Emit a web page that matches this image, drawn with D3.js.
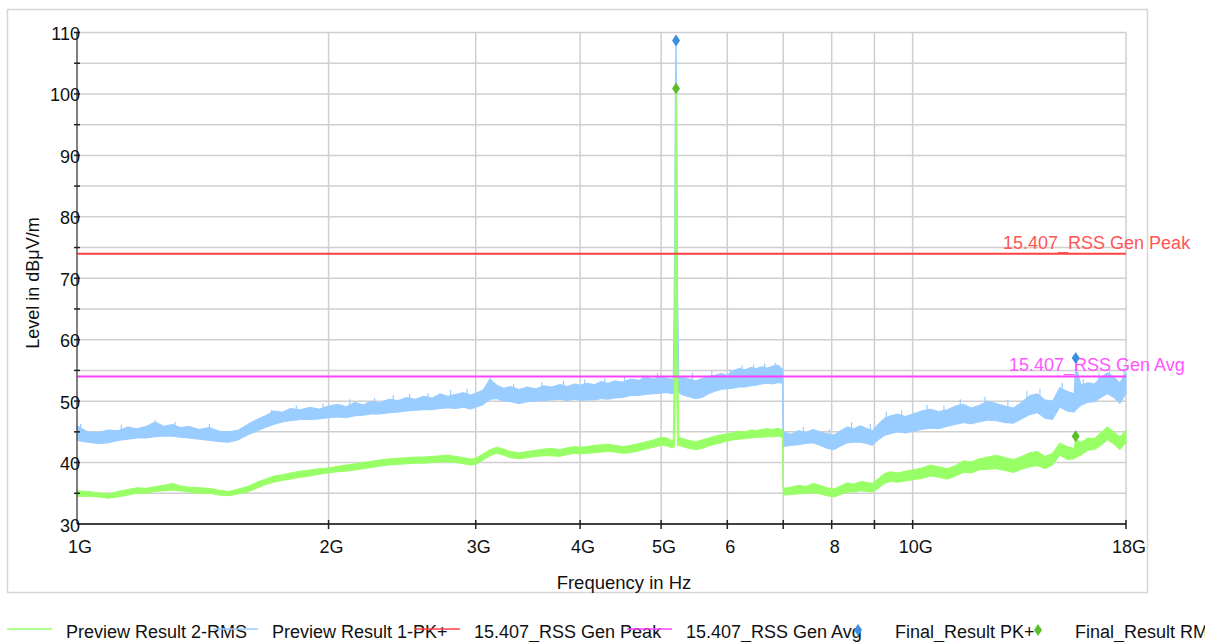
<!DOCTYPE html>
<html><head><meta charset="utf-8">
<script src="https://cdn.jsdelivr.net/npm/d3@7"></script>
<style>
html,body{margin:0;padding:0;background:#fff;}
svg{display:block;font-family:"Liberation Sans",Arial,sans-serif;}
</style></head><body>
<svg id="chart" width="1205" height="642"></svg>
<script>
// ---------- data (GHz / dBµV/m) ----------
const freqGHz = [
 1.00,1.03,1.06,1.09,1.12,1.15,1.18,1.21,1.24,1.27,1.30,1.33,1.36,1.40,1.44,1.48,1.52,1.56,1.60,1.64,1.68,1.72,1.76,1.80,1.85,1.90,1.95,2.00,
 2.05,2.10,2.15,2.20,2.25,2.30,2.36,2.42,2.48,2.54,2.60,2.66,2.72,2.78,2.84,2.90,2.96,3.00,
 3.06,3.12,3.18,3.24,3.30,3.38,3.46,3.54,3.62,3.70,3.78,3.86,3.94,4.00,4.08,4.16,4.24,4.32,4.40,4.50,4.60,4.70,4.80,4.90,5.00,5.08,5.15,
 5.17,5.19,5.20,5.21,5.22,5.23,5.25,
 5.30,5.40,5.50,5.60,5.70,5.80,5.90,6.00,6.10,6.20,6.30,6.40,6.50,6.60,6.70,6.80,6.90,6.99,7.00,
 7.15,7.30,7.45,7.60,7.75,7.90,8.05,8.20,8.35,8.50,8.65,8.80,8.95,9.10,9.25,9.40,9.60,9.80,10.0,
 10.25,10.5,10.75,11.0,11.25,11.5,11.75,12.0,12.3,12.6,12.9,13.2,13.5,13.8,14.1,14.4,14.7,15.0,15.3,15.6,15.67,15.9,16.2,16.5,16.8,17.1,17.4,17.7,18.0
];
const pkHi = [
 46.0,45.0,44.9,45.3,45.2,45.8,45.5,45.9,46.6,45.9,46.2,45.7,45.9,45.4,45.7,45.1,45.0,45.3,46.2,47.0,47.6,48.4,48.2,48.8,48.6,49.0,48.7,49.2,
 49.5,49.1,49.8,49.4,50.0,49.7,50.3,50.1,50.6,50.3,50.8,50.5,51.2,50.8,51.1,51.4,51.0,51.3,
 51.8,53.6,52.6,52.1,52.4,51.9,52.3,52.0,52.5,52.3,52.7,52.4,52.8,52.6,52.9,52.7,53.2,52.9,53.3,53.1,53.6,53.4,53.9,53.6,54.0,53.7,53.6,
 53.5,75.0,100.0,108.7,100.0,70.0,53.8,
 53.9,53.6,53.3,53.7,54.0,54.2,54.5,54.2,55.0,55.3,55.1,55.5,55.3,55.6,55.4,55.7,55.9,55.2,45.0,
 44.6,45.2,44.9,45.4,45.0,44.7,44.5,45.2,45.8,45.5,46.0,45.6,45.2,46.3,47.2,47.6,47.9,47.5,47.9,
 48.4,48.7,48.3,48.6,49.2,49.5,48.9,49.3,50.0,49.6,49.2,48.9,49.8,50.9,51.2,50.2,50.0,52.2,51.6,51.2,56.0,52.6,53.0,52.8,53.9,54.6,54.0,53.0,54.6
];
const pkLo = [
 43.6,43.3,43.1,43.2,43.6,43.8,44.0,44.0,44.2,44.3,44.3,44.1,44.0,43.8,43.6,43.4,43.3,43.7,44.5,45.1,45.7,46.2,46.6,46.8,47.0,47.0,47.1,47.3,
 47.4,47.3,47.6,47.7,47.9,47.9,48.1,48.2,48.4,48.5,48.6,48.6,48.8,48.9,48.8,49.0,48.7,49.0,
 49.4,50.3,50.4,50.0,49.9,49.6,49.9,50.0,50.1,50.2,50.3,50.1,50.3,50.1,50.2,50.2,50.4,50.3,50.5,50.6,50.9,50.9,51.1,51.2,51.3,51.4,51.2,
 51.3,51.5,60.0,70.0,60.0,51.5,51.4,
 51.0,50.7,50.4,50.6,51.2,51.6,51.9,52.0,52.1,52.3,52.3,52.5,52.6,52.8,52.9,52.8,53.0,52.9,42.6,
 42.8,42.9,43.1,43.2,42.8,42.3,42.1,42.7,43.2,43.3,43.3,43.1,42.8,43.7,44.4,44.7,45.0,44.8,45.1,
 45.4,45.6,45.5,45.9,46.2,46.5,46.3,46.6,46.9,46.8,46.5,46.4,47.1,47.8,48.1,47.2,47.0,49.0,48.4,48.2,48.5,49.3,49.8,49.9,50.6,51.2,50.6,49.6,51.2
];
const rmsHi = [
 35.4,35.3,35.1,34.9,35.3,35.6,35.9,35.8,36.1,36.3,36.6,36.2,36.0,35.9,35.8,35.5,35.3,35.7,36.1,36.8,37.3,37.8,38.0,38.3,38.6,38.8,39.0,39.1,
 39.4,39.6,39.8,40.0,40.2,40.4,40.6,40.7,40.8,40.9,40.9,41.0,41.1,41.2,41.0,40.8,40.6,40.7,
 41.4,42.1,42.5,42.2,41.8,41.6,41.8,42.0,42.2,42.3,42.1,42.4,42.6,42.5,42.6,42.8,42.9,43.0,42.8,42.6,42.8,43.1,43.4,43.7,44.1,44.0,43.6,
 43.7,60.0,92.0,100.9,92.0,60.0,44.2,
 43.9,43.6,43.4,43.7,44.0,44.3,44.5,44.7,44.9,45.1,45.0,45.3,45.2,45.4,45.5,45.4,45.6,45.3,35.8,
 36.0,36.3,36.1,36.6,36.3,35.9,35.7,36.2,36.7,36.5,36.9,36.8,36.6,37.4,38.2,38.5,38.3,38.6,38.8,
 39.1,39.6,39.3,39.0,39.5,40.3,40.1,40.6,40.9,41.2,40.8,40.5,41.0,41.6,41.8,41.0,41.5,43.2,42.6,42.3,43.8,43.3,44.0,43.9,44.9,45.8,45.0,44.2,45.3
];
const rmsLo = [
 34.5,34.5,34.4,34.2,34.4,34.7,35.0,35.0,35.3,35.4,35.5,35.4,35.2,35.0,35.0,34.7,34.6,34.9,35.2,35.8,36.4,36.8,37.1,37.3,37.6,37.8,38.1,38.3,
 38.5,38.6,38.8,39.0,39.2,39.4,39.6,39.7,39.8,39.9,39.9,40.0,40.1,40.1,40.0,39.8,39.6,39.7,
 40.4,41.1,41.5,41.2,40.8,40.6,40.8,41.0,41.1,41.1,41.0,41.3,41.5,41.4,41.5,41.6,41.7,41.8,41.7,41.5,41.6,41.9,42.2,42.5,42.8,42.7,42.4,
 42.4,42.6,52.0,60.0,52.0,42.8,42.8,
 42.6,42.3,42.1,42.3,42.7,43.0,43.2,43.5,43.7,43.8,43.9,44.0,44.1,44.1,44.2,44.2,44.3,44.1,34.7,
 34.8,34.9,35.0,35.1,34.9,34.6,34.4,34.8,35.2,35.2,35.4,35.3,35.2,35.8,36.6,36.9,36.8,37.0,37.2,
 37.4,37.8,37.6,37.3,37.8,38.4,38.3,38.8,38.9,39.0,38.7,38.4,38.9,39.3,39.5,39.0,39.6,41.2,40.5,40.6,40.8,41.2,42.0,42.1,42.8,43.7,43.0,42.1,43.2
];
// isolated noise spikes on the PK+ trace
const pkSpikeFreq  = [1.01,1.13,1.24,1.31,1.44,1.58,1.71,1.83,1.97,2.12,2.27,2.39,2.50,2.63,2.80,2.93,3.12,3.33,3.60,3.82,4.05,4.28,4.52,4.75,4.95,5.45,5.75,6.05,6.25,6.45,6.65,6.85,7.40,7.95,8.45,8.90,9.30,9.70,10.4,10.9,11.4,12.2,13.0,13.7,14.2,15.1,16.0,16.7,17.2,17.9];
const pkSpikeLevel = [46.3,46.2,46.9,46.6,46.3,45.8,48.6,49.3,49.6,50.3,50.5,51.0,51.2,51.3,51.8,52.0,53.9,52.8,53.1,53.3,53.5,53.7,54.0,54.2,54.6,54.6,54.9,55.2,55.8,56.0,56.1,56.2,45.8,45.4,46.6,46.3,48.3,48.5,49.4,49.3,50.3,50.7,50.2,51.6,52.0,53.0,53.6,54.5,55.6,55.3];
const limitPeakValue = 74;
const limitAvgValue = 54;
const finalPkFreq = [5.21, 15.67];
const finalPkLevel = [108.7, 57.0];
const finalRmsFreq = [5.21, 15.67];
const finalRmsLevel = [100.9, 44.3];
const xTickValues = [1, 2, 3, 4, 5, 6, 7, 8, 9, 10, 18];
const xTickLabels = ["1G", "2G", "3G", "4G", "5G", "6", "", "8", "", "10G", "18G"];
const yTickValues = [30, 40, 50, 60, 70, 80, 90, 100, 110];
const yGridValues = [35, 40, 45, 50, 55, 60, 65, 70, 75, 80, 85, 90, 95, 100, 105, 110];
const legendLabels = ["Preview Result 2-RMS", "Preview Result 1-PK+", "15.407_RSS Gen Peak", "15.407_RSS Gen Avg", "Final_Result PK+", "Final_Result RMS"];
const limitLabels = ["15.407_RSS Gen Peak", "15.407_RSS Gen Avg"];

// ---------- styles / layout ----------
const C = {blue:"#99ccff", green:"#99ff66", red:"#ff4040", mag:"#ff40ff",
           redTxt:"#ff5555", magTxt:"#ff55ff", mBlue:"#3a8ee0", mGreen:"#5cbf2a", grid:"#cfcfcf"};
const L = {x0:77, x1:1126, yTop:32.5, yBot:524};

const svg = d3.select("#chart");
svg.append("rect").attr("width",1205).attr("height",642).attr("fill","#fff");
svg.append("rect").attr("x",7.5).attr("y",9.5).attr("width",1140).attr("height",583)
   .attr("fill","none").attr("stroke","#d6d6d6").attr("stroke-width",1.5);

const x = d3.scaleLog().domain([1,18]).range([L.x0,L.x1]);
const y = d3.scaleLinear().domain([30,110]).range([L.yBot,L.yTop]);

// grid
svg.append("g").selectAll("line").data(yGridValues).join("line")
  .attr("x1",L.x0).attr("x2",L.x1).attr("y1",d=>y(d)).attr("y2",d=>y(d))
  .attr("stroke",C.grid).attr("stroke-width",1.5);
svg.append("g").selectAll("line").data(xTickValues.slice(1)).join("line")
  .attr("x1",d=>x(d)).attr("x2",d=>x(d)).attr("y1",L.yTop).attr("y2",L.yBot)
  .attr("stroke",C.grid).attr("stroke-width",1.5);

// traces
const idx = d3.range(freqGHz.length);
const band = (hi,lo)=>d3.area().x(i=>x(freqGHz[i])).y0(i=>y(lo[i])).y1(i=>y(hi[i]));
svg.append("path").attr("d",band(pkHi,pkLo)(idx)).attr("fill",C.blue).attr("stroke",C.blue).attr("stroke-width",1);
// PK+ spikes from band body up to the spike level
const pkMid = f => y(d3.bisectLeft(freqGHz,f) < freqGHz.length ? (pkHi[d3.bisectLeft(freqGHz,f)]+pkLo[d3.bisectLeft(freqGHz,f)])/2 : 45);
svg.append("g").selectAll("line").data(d3.range(pkSpikeFreq.length)).join("line")
  .attr("x1",i=>x(pkSpikeFreq[i])).attr("x2",i=>x(pkSpikeFreq[i]))
  .attr("y1",i=>pkMid(pkSpikeFreq[i])).attr("y2",i=>y(pkSpikeLevel[i]))
  .attr("stroke",C.blue).attr("stroke-width",1.2);
svg.append("path").attr("d",band(rmsHi,rmsLo)(idx)).attr("fill",C.green).attr("stroke",C.green).attr("stroke-width",1);

// limit lines
svg.append("line").attr("x1",x(1)).attr("x2",x(18)).attr("y1",y(limitPeakValue)).attr("y2",y(limitPeakValue))
  .attr("stroke",C.red).attr("stroke-width",2);
svg.append("line").attr("x1",x(1)).attr("x2",x(18)).attr("y1",y(limitAvgValue)).attr("y2",y(limitAvgValue))
  .attr("stroke",C.mag).attr("stroke-width",2);
svg.append("text").attr("x",1003).attr("y",y(limitPeakValue)-5).attr("font-size",18).attr("fill",C.redTxt).text(limitLabels[0]);
svg.append("text").attr("x",1009).attr("y",y(limitAvgValue)-6).attr("font-size",18).attr("fill",C.magTxt).text(limitLabels[1]);

// markers
const diamond = "M0,-6L4,0L0,6L-4,0Z";
svg.append("g").selectAll("path").data(d3.range(finalPkFreq.length)).join("path")
  .attr("d",diamond).attr("transform",i=>`translate(${x(finalPkFreq[i])},${y(finalPkLevel[i])})`).attr("fill",C.mBlue);
svg.append("g").selectAll("path").data(d3.range(finalRmsFreq.length)).join("path")
  .attr("d",diamond).attr("transform",i=>`translate(${x(finalRmsFreq[i])},${y(finalRmsLevel[i])})`).attr("fill",C.mGreen);

// axes
svg.append("line").attr("x1",L.x0).attr("x2",L.x0).attr("y1",L.yTop).attr("y2",L.yBot).attr("stroke","#555").attr("stroke-width",1.5);
svg.append("g").selectAll("line").data(yGridValues).join("line")
  .attr("x1",L.x0-3).attr("x2",L.x0+3).attr("y1",d=>y(d)).attr("y2",d=>y(d)).attr("stroke","#222").attr("stroke-width",1.5);
svg.append("g").selectAll("text").data(yTickValues).join("text")
  .attr("x",80).attr("y",d=>y(d)+7.5).attr("text-anchor","end").attr("font-size",18).attr("fill","#111").text(d=>d);

svg.append("line").attr("x1",L.x0).attr("x2",L.x1).attr("y1",L.yBot).attr("y2",L.yBot).attr("stroke","#000").attr("stroke-width",1.5);
svg.append("g").selectAll("line").data(xTickValues.slice(1)).join("line")
  .attr("x1",d=>x(d)).attr("x2",d=>x(d)).attr("y1",L.yBot-4).attr("y2",L.yBot+5).attr("stroke","#222").attr("stroke-width",1.5);
svg.append("g").selectAll("text").data(d3.range(xTickValues.length)).join("text")
  .attr("x",i=>x(xTickValues[i])+3).attr("y",553).attr("text-anchor","middle").attr("font-size",18).attr("fill","#111")
  .text(i=>xTickLabels[i]);

svg.append("text").attr("x",624).attr("y",589).attr("text-anchor","middle").attr("font-size",18.5).attr("fill","#111").text("Frequency in Hz");
svg.append("text").attr("transform","translate(39,283) rotate(-90)").attr("text-anchor","middle").attr("font-size",18).attr("fill","#111").text("Level in dBμV/m");

// legend
const legX = [7, 213, 415, 627, 835, 1015];
const legKind = ["line","line","line","line","dia","dia"];
const legCol = [C.green, C.blue, C.red, C.mag, C.mBlue, C.mGreen];
const lg = svg.append("g");
legendLabels.forEach((t,i)=>{
  if(legKind[i]==="line"){
    lg.append("line").attr("x1",legX[i]).attr("x2",legX[i]+45).attr("y1",629).attr("y2",629).attr("stroke",legCol[i]).attr("stroke-width",1.5);
  } else {
    lg.append("path").attr("d",diamond).attr("transform",`translate(${legX[i]+23},630)`).attr("fill",legCol[i]);
  }
  lg.append("text").attr("x",legX[i]+(legKind[i]==="line"?59:60)).attr("y",638).attr("font-size",18).attr("fill","#111").text(t);
});
</script>
</body></html>
